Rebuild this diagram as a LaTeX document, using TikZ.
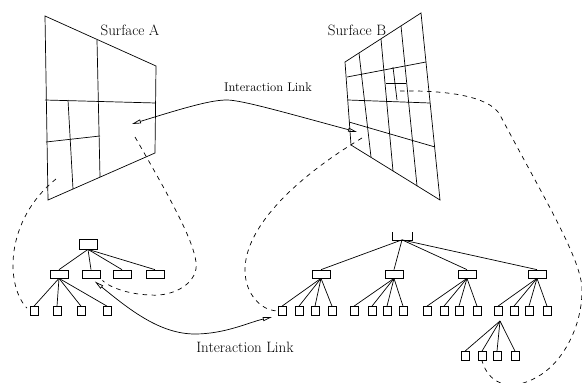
\documentclass[tikz,border=0pt]{standalone}
\usetikzlibrary{arrows.meta}

\begin{document}
\begin{tikzpicture}[x=1pt, y=-1pt, line width=0.7pt,
    box/.style={draw, inner sep=0pt, minimum width=18pt, minimum height=8pt},
    leaf/.style={draw, inner sep=0pt, minimum width=8pt, minimum height=9pt},
    link/.style={{Triangle[open, length=9pt, width=4pt]}-{Triangle[open, length=9pt, width=4pt]}},
    dashline/.style={dash pattern=on 4.5pt off 4.5pt},
    title/.style={font=\fontsize{15}{18}\selectfont}
  ]
  \useasboundingbox (0,0) rectangle (582,383);

  % surface A
  \draw (45,16) -- (156,66) -- (155,153) -- (48,200) -- cycle;
  \draw (97,40) -- (100,177);
  \draw (45,100) -- (156,103);
  \draw (68,100) -- (73,189);
  \draw (46,142) -- (100,136);
  \node[title] (sa) at (130,30) {Surface A};

  % surface B
  \draw (345,62) -- (421,13) -- (440,200) -- (351,145) -- cycle;
  \draw (359,53) -- (371,157);
  \draw (381,39) -- (393,171);
  \draw (401,26) -- (417,186);
  \draw (347,77) -- (426,62);
  \draw (348,100) -- (430,103);
  \draw (349,122) -- (435,147);
  \draw (386,83) -- (406,83);
  \draw (393,67) -- (397,100);
  \node[title] (sb) at (357,30) {Surface B};

  \coordinate (tipA) at (132,124);
  \coordinate (tipB) at (357,132);
  \coordinate (qa1) at (56,179);
  \coordinate (qa2) at (135,137);
  \coordinate (qb1) at (362,138);
  \coordinate (qb2) at (400,91);

  % left tree
  \node[box, minimum height=10pt] (lroot) at (88,244) {};
  \node[box] (lb1) at (59,274) {};
  \node[box] (lb2) at (91,274) {};
  \node[box] (lb3) at (122,274) {};
  \node[box] (lb4) at (155,274) {};
  \node[leaf] (ll1) at (34,311) {};
  \node[leaf] (ll2) at (57,311) {};
  \node[leaf] (ll3) at (81,311) {};
  \node[leaf] (ll4) at (107,311) {};

  \foreach \n in {lb1,lb2,lb3,lb4}
    \draw (lroot.south) -- (\n.north);
  \foreach \n in {ll1,ll2,ll3,ll4}
    \draw (lb1.south) -- (\n.north);

  % right tree
  \node[inner sep=0pt, minimum width=19pt, minimum height=7pt] (rroot) at (402,236) {};
  \draw (rroot.north west) |- (rroot.south east) -- (rroot.north east);
  \node[box] (rb1) at (321,274) {};
  \node[box] (rb2) at (394,274) {};
  \node[box] (rb3) at (467,274) {};
  \node[box] (rb4) at (537,274) {};

  \node[leaf] (r11) at (282,311) {};
  \node[leaf] (r12) at (299,311) {};
  \node[leaf] (r13) at (315,311) {};
  \node[leaf] (r14) at (332,311) {};
  \node[leaf] (r21) at (354,311) {};
  \node[leaf] (r22) at (372,311) {};
  \node[leaf] (r23) at (387,311) {};
  \node[leaf] (r24) at (403,311) {};
  \node[leaf] (r31) at (427,311) {};
  \node[leaf] (r32) at (444,311) {};
  \node[leaf] (r33) at (459,311) {};
  \node[leaf] (r34) at (477,311) {};
  \node[leaf] (r41) at (498,311) {};
  \node[leaf] (r42) at (514,311) {};
  \node[leaf] (r43) at (529,311) {};
  \node[leaf] (r44) at (547,311) {};

  \coordinate (sub) at (500,321);
  \node[leaf] (s1) at (465,356) {};
  \node[leaf] (s2) at (482,356) {};
  \node[leaf] (s3) at (497,356) {};
  \node[leaf] (s4) at (515,356) {};

  \foreach \n in {rb1,rb2,rb3,rb4}
    \draw (rroot.south) -- (\n.north);
  \foreach \g in {1,2,3,4}
    \foreach \k in {1,2,3,4}
      \draw (rb\g.south) -- (r\g\k.north);
  \foreach \n in {s1,s2,s3,s4}
    \draw (sub) -- (\n.north);

  % dashed mappings
  \draw[dashline, shorten >=4pt] (qa1) .. controls (5,220) and (5,285) .. (ll1.west);
  \draw[dashline, shorten >=3pt] (qa2) .. controls (173,203) and (193,240) .. (196,262)
    .. controls (199,282) and (175,297) .. (150,295)
    .. controls (125,294) and (108,286) .. (lb2.south east);
  \draw[dashline, shorten >=2pt] (qb1) .. controls (300,175) and (245,225) .. (245,270)
    .. controls (245,295) and (262,310) .. (r11.west);
  \draw[dashline] (qb2) .. controls (460,90) and (492,100) .. (500,115)
    .. controls (545,200) and (582,260) .. (582,290)
    .. controls (582,330) and (560,365) .. (537,377)
    .. controls (515,390) and (490,388) .. (s2.south);

  % interaction links
  \draw[link] (tipA) .. controls (190,106) and (212,100) .. (227,100)
    .. controls (242,100) and (290,114) .. (tipB);
  \node[font=\fontsize{12.6}{15}\selectfont] (il1) at (268,87) {Interaction Link};

  \draw[link, shorten <=5pt, shorten >=6pt] (lb2.south) .. controls (130,310) and (160,334) .. (195,334)
    .. controls (225,334) and (250,322) .. (r11.south west);
  \node[title] (il2) at (245,347) {Interaction Link};
\end{tikzpicture}
\end{document}
